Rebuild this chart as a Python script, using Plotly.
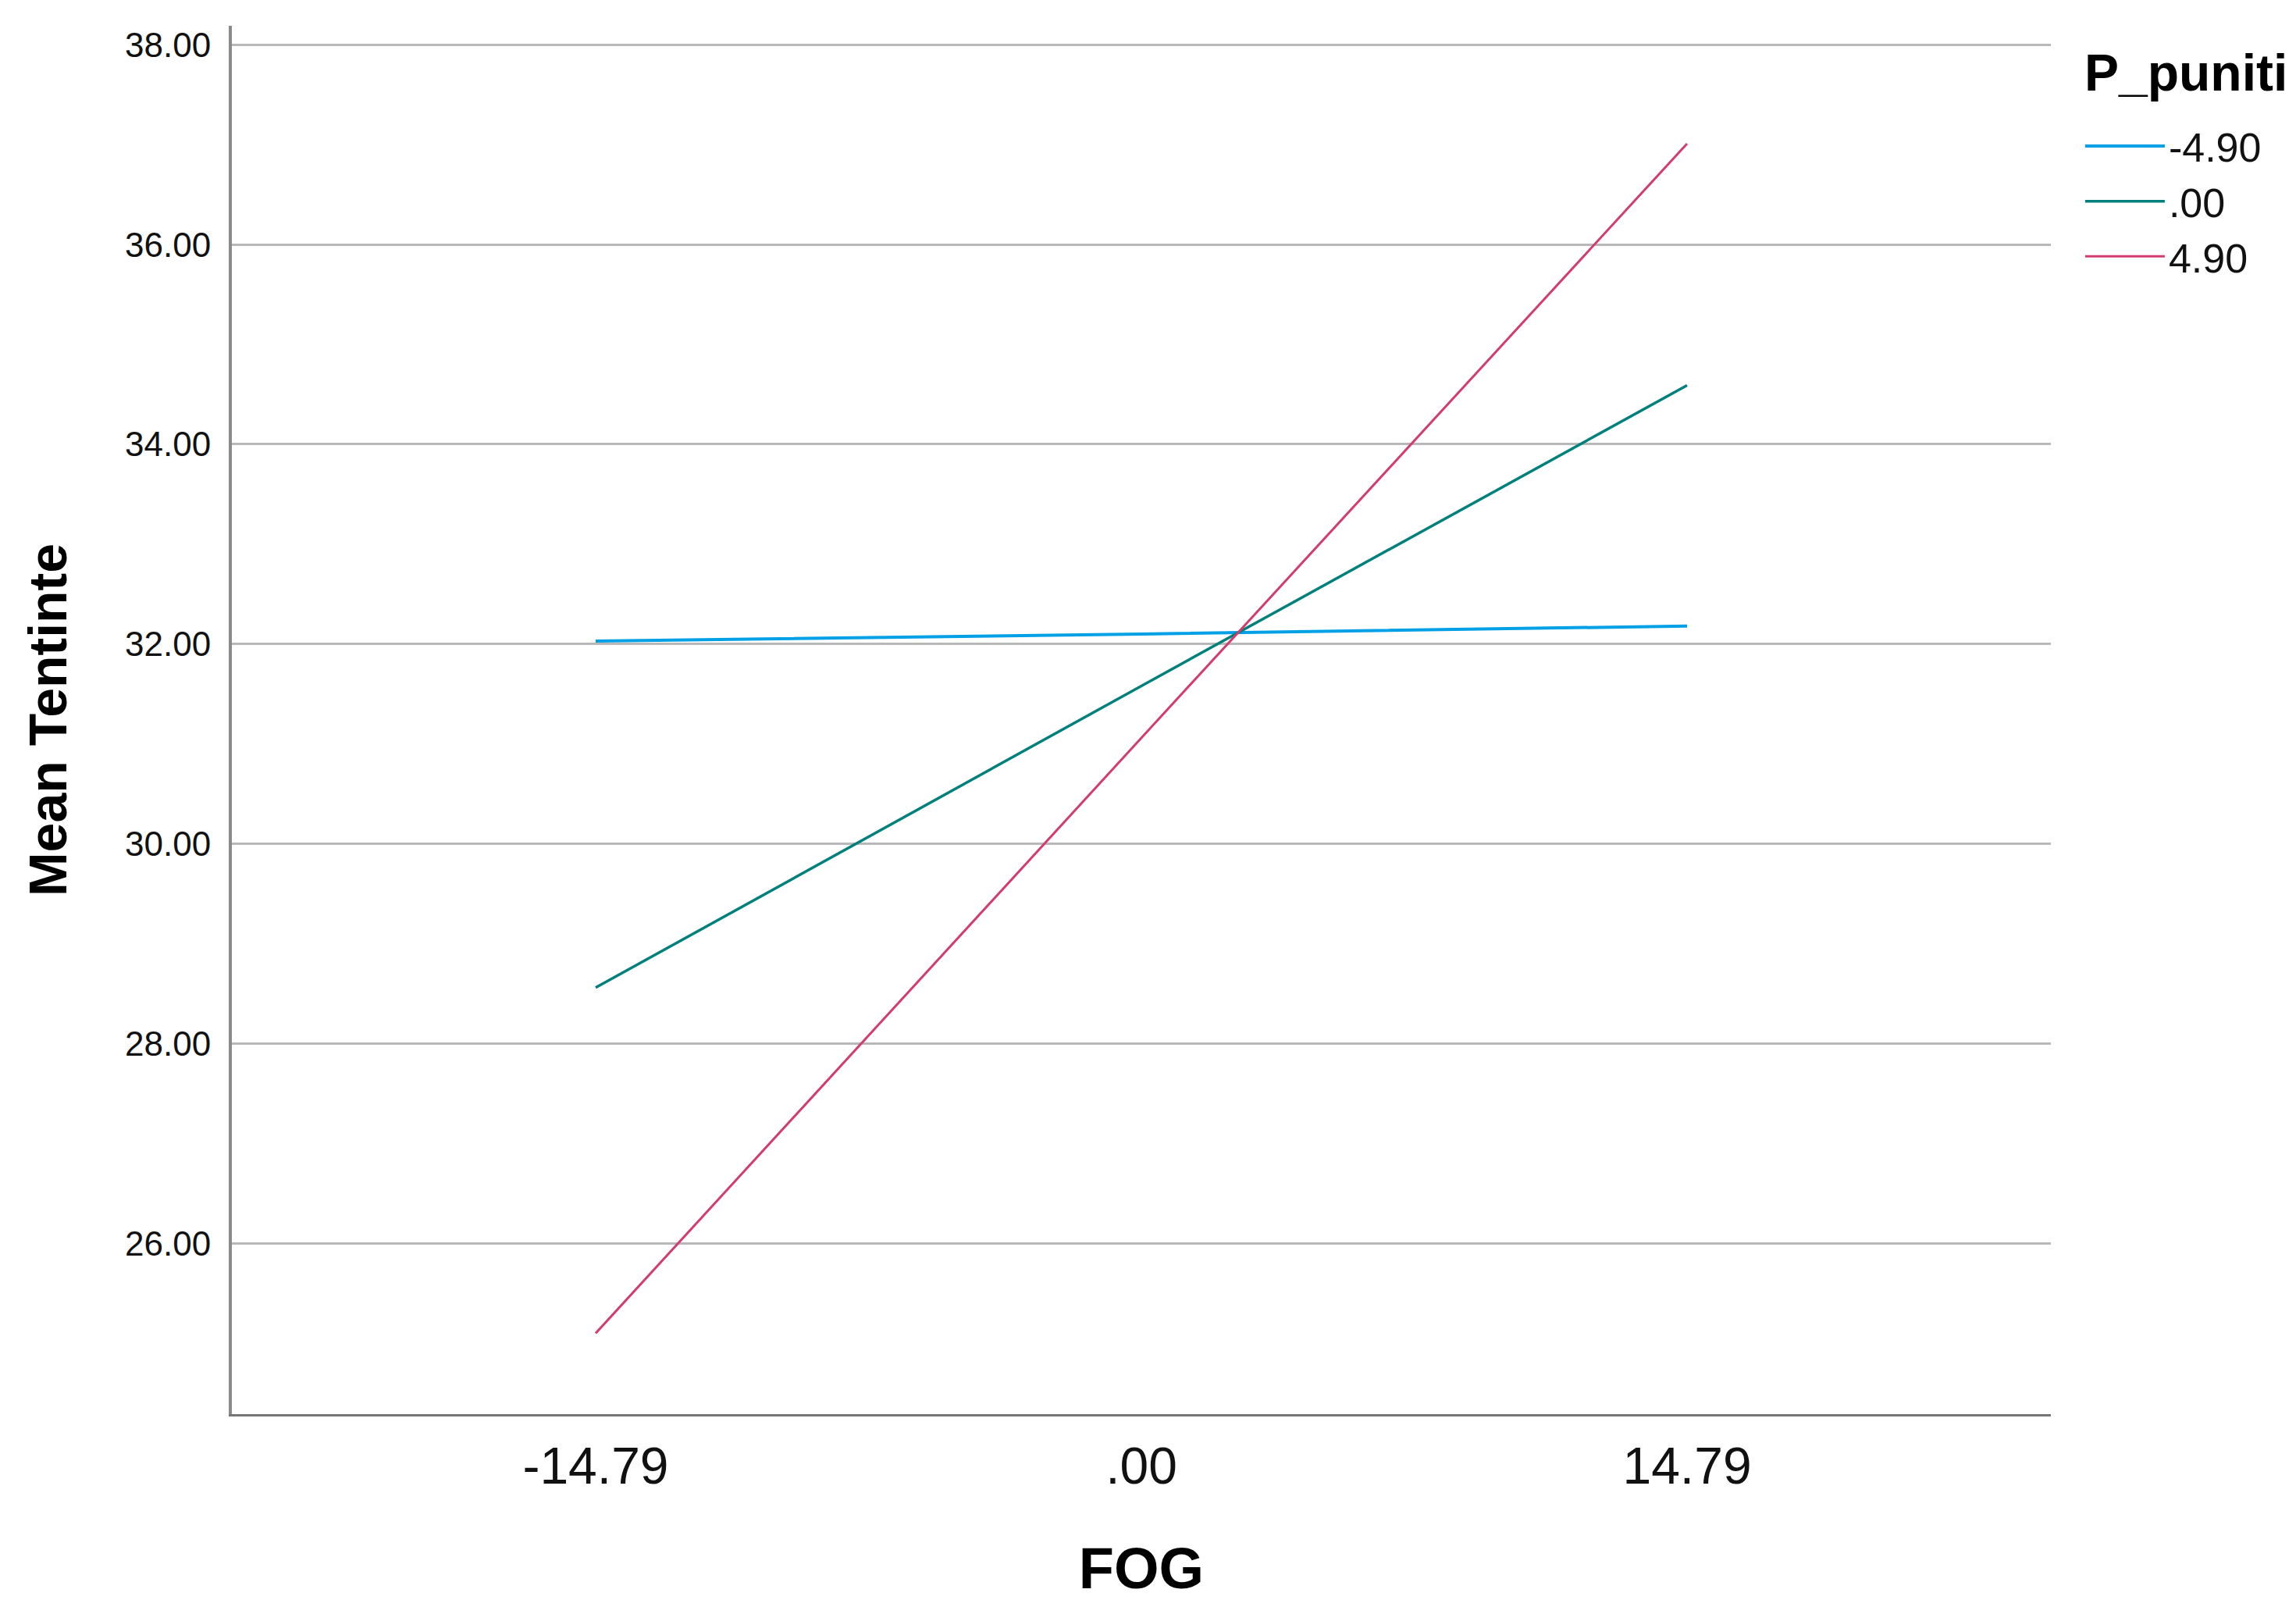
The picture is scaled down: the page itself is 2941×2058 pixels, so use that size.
import plotly.graph_objects as go

# FOG levels (x) and estimated marginal means of Tentinte per P_puniti level
fog_vals = [-14.79, 0.0, 14.79]
fog_labels = ["-14.79", ".00", "14.79"]

series_names = ["-4.90", ".00", "4.90"]
mean_low = [32.03, 32.10, 32.18]
mean_mid = [28.56, 31.58, 34.59]
mean_high = [25.10, 31.06, 37.01]

colors = ["#00A0E6", "#00807C", "#D23C70"]
widths = [4, 3.5, 3]

fig = go.Figure()
for name, vals, col, w in zip(series_names, [mean_low, mean_mid, mean_high], colors, widths):
    fig.add_trace(go.Scatter(
        x=fog_vals, y=vals, mode="lines", name=name,
        line=dict(color=col, width=w),
    ))

# legend title drawn as a separate label so the item spacing can match
fig.add_annotation(
    text="<b>P_puniti</b>", xref="paper", yref="paper",
    x=1.0176, y=0.9664, xanchor="left", yanchor="middle",
    showarrow=False, font=dict(size=66, color="black"),
)

fig.update_layout(
    width=2941, height=2058,
    margin=dict(l=289, r=322, t=25, b=255),
    paper_bgcolor="white", plot_bgcolor="white",
    font=dict(family="Liberation Sans, Arial, sans-serif", color="#111111"),
    showlegend=True,
    legend=dict(
        font=dict(size=52, color="#111111"),
        x=1.0167, xanchor="left",
        y=0.936, yanchor="top",
        itemwidth=102, tracegroupgap=0,
        bgcolor="rgba(0,0,0,0)",
    ),
    xaxis=dict(
        range=[-24.65, 24.65],
        tickvals=fog_vals, ticktext=fog_labels,
        tickfont=dict(size=66, color="#111111"),
        showgrid=False, zeroline=False,
        showline=True, linecolor="#767676", linewidth=3,
        ticks="outside", ticklen=7, tickcolor="rgba(0,0,0,0)",
        title=dict(text="<b>FOG</b>",
                   font=dict(family="Liberation Sans Narrow, Arial Narrow, Liberation Sans, sans-serif", size=74, color="black"),
                   standoff=69),
    ),
    yaxis=dict(
        range=[24.29, 38.19],
        tickvals=[26, 28, 30, 32, 34, 36, 38],
        tickformat=".2f",
        tickfont=dict(size=44, color="#111111"),
        showgrid=True, gridcolor="#B8B8B8", gridwidth=3,
        zeroline=False,
        showline=True, linecolor="#8A8A8A", linewidth=4,
        ticks="outside", ticklen=14, tickcolor="rgba(0,0,0,0)",
        title=dict(text="<b>Mean Tentinte</b>",
                   font=dict(family="Liberation Sans Narrow, Arial Narrow, Liberation Sans, sans-serif", size=68, color="black"),
                   standoff=53),
    ),
)

fig.write_html("out.html")
